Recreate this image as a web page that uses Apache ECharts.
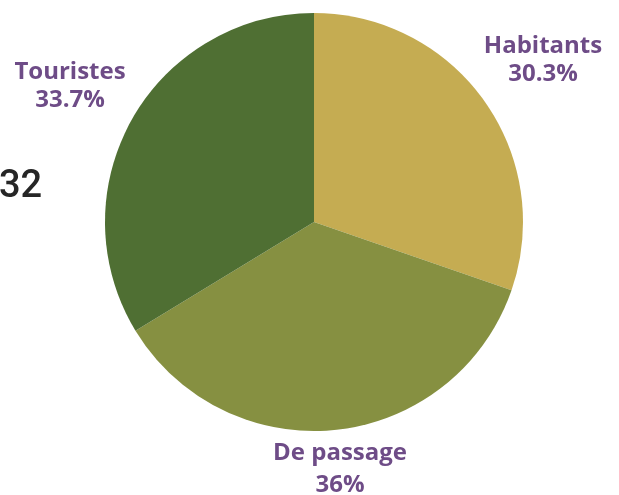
<!DOCTYPE html>
<html><head><meta charset="utf-8">
<script src="https://cdn.jsdelivr.net/npm/echarts@6/dist/echarts.min.js"></script>
<style>html,body{margin:0;padding:0;background:#fff}#c{width:619px;height:495px}</style>
</head><body><div id="c"></div>
<script>
const categories = ['Habitants', 'De passage', 'Touristes'];
const values = [30.3, 36, 33.7];
const colors = ['#C5AC52', '#869041', '#4F6F33'];
const totalLabel = '32';

// label block centres and line heights (layout only)
const labelPos = [[543, 60], [340, 469], [70, 86]];
const labelLineHeights = [28, 32, 28];

const chart = echarts.init(document.getElementById('c'));
chart.setOption({
  animation: false,
  graphic: [{
    type: 'text', left: -1, top: 168,
    style: { text: totalLabel, font: '500 38px Roboto', fill: '#262626' }
  }],
  series: [{
    type: 'pie',
    center: [314, 222],
    radius: 209,
    startAngle: 90,
    clockwise: true,
    label: {
      show: true, position: 'outside',
      formatter: '{b}\n{d}%',
      fontFamily: 'Open Sans', fontWeight: 'bold', fontSize: 24, lineHeight: 28,
      color: '#6E4C87', align: 'center', overflow: 'none'
    },
    labelLine: { show: false },
    labelLayout: function (p) {
      const pos = labelPos[p.dataIndex];
      return { x: pos[0], y: pos[1], align: 'center', verticalAlign: 'middle', hideOverlap: false };
    },
    data: categories.map((c, i) => ({
      name: c, value: values[i],
      itemStyle: { color: colors[i] },
      label: { lineHeight: labelLineHeights[i] }
    }))
  }]
});
</script></body></html>
